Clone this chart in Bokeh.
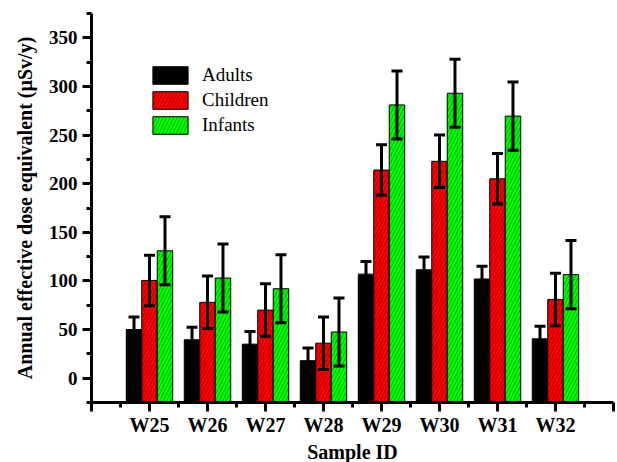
import numpy as np
from bokeh.plotting import figure
from bokeh.models import (ColumnDataSource, FixedTicker, Whisker, TeeHead, Legend,
                          LegendItem, Range1d, Title)
from bokeh.embed import file_html
from bokeh.resources import INLINE

samples = ["W25", "W26", "W27", "W28", "W29", "W30", "W31", "W32"]
adults = [50, 39.5, 35, 18, 107, 111.5, 102, 40.5]
adults_err = [13, 13, 13, 13, 13, 13, 13, 13]
children = [100.5, 78, 70, 36, 214, 223, 205, 81]
children_err = [26, 27, 27, 27, 26, 27, 26, 27]
infants = [131, 103, 92, 47.5, 281, 293, 269.5, 106.5]
infants_err = [35, 35, 35, 35, 35, 35, 35, 35]

y_major = [0, 50, 100, 150, 200, 250, 300, 350]
y_minor = [-25, 25, 75, 125, 175, 225, 275, 325, 375]

FONT = "Liberation Serif"

p = figure(width=617, height=462, output_backend="svg", toolbar_location=None,
           x_range=Range1d(0, 9), y_range=Range1d(-25, 375),
           min_border_left=91, min_border_top=13, min_border_right=4, min_border_bottom=0)
p.outline_line_color = None
p.xgrid.visible = False
p.ygrid.visible = False
p.background_fill_color = "white"

pos = np.arange(1, len(samples) + 1)
bw = 0.267
base = -25

series = [
    ("Adults", adults, adults_err, -bw, "black", None),
    ("Children", children, children_err, 0.0, "#ff0000", "/"),
    ("Infants", infants, infants_err, bw, "#00ff00", "/"),
]

items = []
for name, vals, errs, off, col, hatch in series:
    vals = np.array(vals, dtype=float)
    errs = np.array(errs, dtype=float)
    src = ColumnDataSource(dict(x=pos + off, top=vals, upper=vals + errs, lower=vals - errs))
    kw = {}
    if hatch:
        kw = dict(hatch_pattern=hatch, hatch_color="black", hatch_alpha=0.7,
                  hatch_scale=7, hatch_weight=0.5)
    r = p.vbar(x="x", top="top", bottom=base, width=bw, source=src,
               fill_color=col, line_color="black", line_width=1, **kw)
    items.append(LegendItem(label=name, renderers=[r]))
    w = Whisker(source=src, base="x", upper="upper", lower="lower", dimension="height",
                line_color="black", line_width=3, level="overlay",
                upper_head=TeeHead(size=11, line_width=3, line_color="black"),
                lower_head=TeeHead(size=11, line_width=3, line_color="black"))
    p.add_layout(w)

legend = Legend(items=items, location=(57, 266), padding=0, margin=0, spacing=3,
                glyph_width=44, glyph_height=22, label_standoff=10,
                border_line_color=None, background_fill_alpha=0,
                label_text_font=FONT, label_text_font_size="19px", label_text_color="black")
p.add_layout(legend)

# x axis
p.xaxis.ticker = FixedTicker(ticks=list(range(0, 10)), minor_ticks=[i + 0.5 for i in range(9)])
overrides = {0: "", 9: ""}
for i, s in enumerate(samples):
    overrides[i + 1] = s
p.xaxis.major_label_overrides = overrides

# x-axis title as a panel below the axis
xtitle = Title(text="Sample ID", align="center", offset=-9, standoff=0,
               text_font=FONT, text_font_style="bold", text_font_size="20px",
               text_color="black")
p.add_layout(xtitle, "below")

# y axis
p.yaxis.ticker = FixedTicker(ticks=y_major, minor_ticks=y_minor)
p.yaxis.axis_label = "Annual effective dose equivalent (\u00b5Sv/y)"

for ax in (p.xaxis[0], p.yaxis[0]):
    ax.axis_line_width = 3
    ax.axis_line_color = "black"
    ax.major_tick_line_width = 3
    ax.minor_tick_line_width = 3
    ax.major_tick_line_color = "black"
    ax.minor_tick_line_color = "black"
    ax.major_tick_in = 0
    ax.minor_tick_in = 0
    ax.major_tick_out = 9
    ax.minor_tick_out = 5
    ax.major_label_text_font = FONT
    ax.major_label_text_font_style = "bold"
    ax.major_label_text_font_size = "19px"
    ax.major_label_text_color = "black"
    ax.axis_label_text_font = FONT
    ax.axis_label_text_font_style = "bold"
    ax.axis_label_text_font_size = "20px"
    ax.axis_label_text_color = "black"

p.xaxis.major_tick_out = 9
p.xaxis.major_label_text_font_size = "20px"
p.xaxis.major_label_standoff = 2
p.yaxis.major_label_standoff = 5
p.yaxis.axis_label_standoff = 10

open("out.html", "w").write(file_html(p, INLINE))
